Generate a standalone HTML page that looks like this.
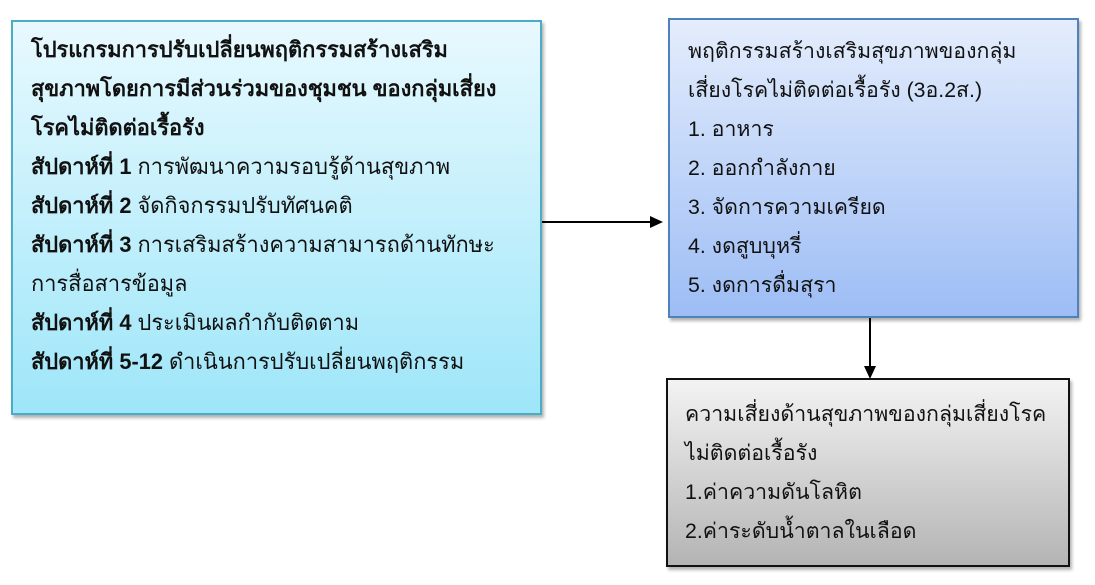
<!DOCTYPE html>
<html><head><meta charset="utf-8"><style>
html,body{margin:0;padding:0;background:#fff;width:1095px;height:585px;overflow:hidden;position:relative;font-family:"Liberation Sans","DejaVu Sans",sans-serif;color:#111;}
.box{position:absolute;box-sizing:border-box;box-shadow:2px 3px 3px rgba(0,0,0,0.3);}
.t{position:absolute;white-space:nowrap;font-size:21.3px;line-height:39px;}
b{font-weight:bold;}
</style></head><body>
<div class="box" style="left:11px;top:20px;width:531px;height:395px;border:2px solid #4bacc6;background:linear-gradient(#e8f9fe,#9ee6f9);"></div>
<div class="t" style="left:31px;top:30px;font-size:21.8px;">
<b>โปรแกรมการปรับเปลี่ยนพฤติกรรมสร้างเสริม</b><br>
<b>สุขภาพโดยการมีส่วนร่วมของชุมชน ของกลุ่มเสี่ยง</b><br>
<b>โรคไม่ติดต่อเรื้อรัง</b><br>
<b>สัปดาห์ที่ 1</b> การพัฒนาความรอบรู้ด้านสุขภาพ<br>
<b>สัปดาห์ที่ 2</b> จัดกิจกรรมปรับทัศนคติ<br>
<b>สัปดาห์ที่ 3</b> การเสริมสร้างความสามารถด้านทักษะ<br>
การสื่อสารข้อมูล<br>
<b>สัปดาห์ที่ 4</b> ประเมินผลกำกับติดตาม<br>
<b>สัปดาห์ที่ 5-12</b> ดำเนินการปรับเปลี่ยนพฤติกรรม
</div>

<div class="box" style="left:668px;top:18px;width:411px;height:300px;border:2px solid #4f81bd;background:linear-gradient(#e4edfc,#9dbdf5);"></div>
<div class="t" style="left:688px;top:32px;">
พฤติกรรมสร้างเสริมสุขภาพของกลุ่ม<br>
เสี่ยงโรคไม่ติดต่อเรื้อรัง (3อ.2ส.)<br>
1. อาหาร<br>
2. ออกกำลังกาย<br>
3. จัดการความเครียด<br>
4. งดสูบบุหรี่<br>
5. งดการดื่มสุรา
</div>

<div class="box" style="left:666px;top:378px;width:404px;height:189px;border:2px solid #111;background:linear-gradient(#f3f3f3,#b4b4b4);"></div>
<div class="t" style="left:685px;top:395px;">
ความเสี่ยงด้านสุขภาพของกลุ่มเสี่ยงโรค<br>
ไม่ติดต่อเรื้อรัง<br>
1.ค่าความดันโลหิต<br>
2.ค่าระดับน้ำตาลในเลือด
</div>

<svg width="1095" height="585" style="position:absolute;left:0;top:0">
<line x1="542" y1="222" x2="652" y2="222" stroke="#000" stroke-width="2"/>
<polygon points="663,222 650,216 650,228" fill="#000"/>
<line x1="870" y1="318" x2="870" y2="368" stroke="#000" stroke-width="2"/>
<polygon points="870,379 864,366 876,366" fill="#000"/>
</svg>
</body></html>
